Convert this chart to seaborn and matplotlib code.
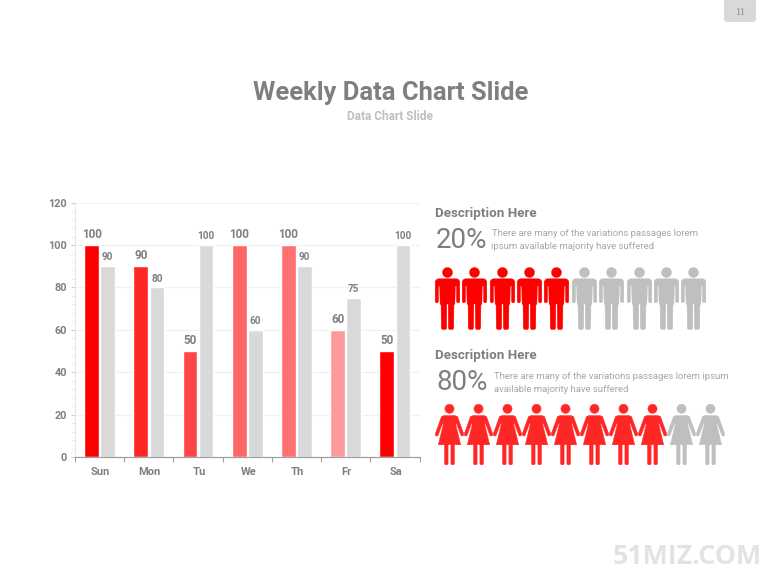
import matplotlib
matplotlib.use("Agg")
import matplotlib.pyplot as plt
from matplotlib.path import Path
from matplotlib.patches import FancyBboxPatch
from matplotlib.ticker import MultipleLocator, FixedLocator
from matplotlib.transforms import ScaledTranslation
import numpy as np
import pandas as pd
import seaborn as sns

days = ["Sun", "Mon", "Tu", "We", "Th", "Fr", "Sa"]
series_a = [100, 90, 50, 100, 100, 60, 50]
series_b = [90, 80, 100, 60, 90, 75, 100]
bar_colors = ["#ff0000", "#ff2626", "#ff4545", "#ff6666", "#ff7070", "#ff9999", "#ff0000"]
GREY_BAR = "#d9d9d9"
men_filled, men_total = 5, 10
women_filled, women_total = 8, 10

W, H = 780, 585
TXT = "#7f7f7f"
LIGHT = "#a6a6a6"

sns.set_theme(style="white")
plt.rcParams["font.family"] = ["Roboto", "DejaVu Sans"]

fig = plt.figure(figsize=(W / 100, H / 100), dpi=100, facecolor="white")


def axes_px(x0, y0, x1, y1, **kw):
    return fig.add_axes([x0 / W, 1 - y1 / H, (x1 - x0) / W, (y1 - y0) / H], **kw)


def t(x, y, s, **kw):
    kw.setdefault("va", "center")
    return fig.text(x / W, 1 - y / H, s, **kw)


# bar chart
ax = axes_px(75, 202.6, 419.5, 457.2)
df = pd.DataFrame({
    "day": days * 2,
    "value": series_a + series_b,
    "series": ["a"] * 7 + ["b"] * 7,
})
sns.barplot(data=df, x="day", y="value", hue="series", order=days,
            palette=["#ff0000", GREY_BAR], width=0.654, gap=0.087,
            legend=False, ax=ax, saturation=1)
for bar, c in zip(ax.containers[0], bar_colors):
    bar.set_facecolor(c)
ax.bar_label(ax.containers[0], padding=2.8, fontsize=8.4, fontweight="bold", color=TXT)
ax.bar_label(ax.containers[1], padding=2.8, fontsize=7.2, fontweight="bold", color=TXT)
ax.set_xlim(-0.5, 6.5)
ax.set_ylim(0, 120)
ax.set_xlabel("")
ax.set_ylabel("")
ax.yaxis.set_major_locator(MultipleLocator(20))
ax.yaxis.set_minor_locator(MultipleLocator(4))
ax.grid(axis="y", which="major", color="#f0f0f0", lw=0.8)
ax.set_axisbelow(True)
ax.tick_params(axis="y", which="major", left=True, length=3, color="#d0d0d0", width=0.8,
               labelsize=7.8, labelcolor=TXT, pad=2.8)
ax.tick_params(axis="y", which="minor", left=True, length=2, color="#e0e0e0", width=0.6)
for lab in ax.get_yticklabels():
    lab.set_fontweight("bold")
ax.xaxis.set_major_locator(FixedLocator(np.arange(7)))
ax.xaxis.set_minor_locator(FixedLocator(np.arange(-0.5, 7, 1)))
ax.tick_params(axis="x", which="major", bottom=False, length=0, labelsize=8, labelcolor=TXT, pad=7)
ax.tick_params(axis="x", which="minor", bottom=True, length=3.5, color="#a0a0a0", width=0.8)
ax.set_xticklabels(days, fontweight="bold")
nudge = ScaledTranslation(1 / 100, 0, fig.dpi_scale_trans)
for lab in ax.get_xticklabels():
    lab.set_transform(lab.get_transform() + nudge)
for side in ("top", "right"):
    ax.spines[side].set_visible(False)
ax.spines["left"].set_color("#e6e6e6")
ax.spines["left"].set_linewidth(0.8)
ax.spines["bottom"].set_color("#a0a0a0")
ax.spines["bottom"].set_linewidth(0.9)


# pictogram markers (shape units are pixels, y measured down from the top of the icon)
def marker(polys, head, height):
    parts = []
    cy = height / 2
    for p in polys:
        v = [(x, cy - y) for x, y in p]
        parts.append(Path(v + [v[0]], closed=True))
    hx, hy, hr = head
    parts.append(Path.circle((hx, cy - hy), hr))
    return Path.make_compound_path(*parts)


man_body = [(-9.3, 11.3), (-11, 12), (-12.3, 14), (-12.3, 34), (-11.5, 35.3), (-10, 35.3), (-9.0, 34),
            (-9.0, 18.5), (-7.8, 18.5), (-7.4, 36), (-6.4, 38), (-6.2, 60.5), (-5.2, 62), (-1.8, 62),
            (-0.9, 60.5), (-0.7, 36.5),
            (0.7, 36.5), (0.9, 60.5), (1.8, 62), (5.2, 62), (6.2, 60.5), (6.4, 38), (7.4, 36), (7.8, 18.5),
            (9.0, 18.5),
            (9.0, 34), (10, 35.3), (11.5, 35.3), (12.3, 34), (12.3, 14), (11, 12), (9.3, 11.3)]
man_body = man_body[::-1]
man = marker([man_body], (0, 5, 5), 62)

woman_body = [(-5.5, 11.3), (-8, 12.3), (-14.3, 29.8), (-13.6, 31.8), (-11.6, 31.6), (-6.8, 19), (-6.2, 20),
              (-11.2, 40.6), (-5, 40.6), (-5, 59.6), (-4.2, 60.6), (-2.2, 60.6), (-1.4, 59.6), (-1.4, 40.6),
              (1.4, 40.6), (1.4, 59.6), (2.2, 60.6), (4.2, 60.6),
              (5, 59.6), (5, 40.6), (11.2, 40.6), (6.2, 20), (6.8, 19), (11.6, 31.6), (13.6, 31.8),
              (14.3, 29.8), (8, 12.3), (5.5, 11.3)][::-1]
woman = marker([woman_body], (0, 4.6, 4.6), 60.6)


def icon_row(x0, x1, y0, y1, path, filled, total, on, size):
    a = axes_px(x0, y0, x1, y1)
    a.set_axis_off()
    a.patch.set_alpha(0)
    idx = np.arange(total)
    sns.scatterplot(x=idx[:filled], y=0.5, marker=path, s=size, color=on, linewidth=0.3,
                    edgecolor=on, ax=a, legend=False, clip_on=False)
    sns.scatterplot(x=idx[filled:], y=0.5, marker=path, s=size, color="#bfbfbf", linewidth=0.3,
                    edgecolor="#bfbfbf", ax=a, legend=False, clip_on=False)
    a.set_xlim(-0.5, total - 0.5)
    a.set_ylim(0, 1)


# spacing 27.4 px and 29 px, first centres 446.7 and 449
icon_row(446.7 - 13.7, 446.7 + 27.4 * 9.5, 267.3, 329.3, man, men_filled, men_total, "#ff0000",
         (62 * 0.72) ** 2)
icon_row(449 - 14.5, 449 + 29 * 9.5, 403.3, 464, woman, women_filled, women_total, "#ff2626",
         (60.6 * 0.72) ** 2)

# slide text
t(390.5, 93, "Weekly Data Chart Slide", ha="center", fontsize=18.4, fontweight="bold", color=TXT)
t(390, 116, "Data Chart Slide", ha="center", fontsize=8.6, fontweight="bold", color="#bfbfbf")

t(435, 213, "Description Here", fontsize=9.6, fontweight="bold", color=TXT)
t(436, 240, "20%", fontsize=20, color=TXT)
t(492, 233.5, "There are many of the variations passages lorem", fontsize=6.8, color=LIGHT)
t(491, 246.5, "ipsum available majority have suffered", fontsize=6.8, color=LIGHT)

t(435, 356, "Description Here", fontsize=9.6, fontweight="bold", color=TXT)
t(436, 383, "80%", fontsize=20, color=TXT)
t(494, 376.5, "There are many of the variations passages lorem ipsum", fontsize=6.8, color=LIGHT)
t(494, 389.5, "available majority have suffered", fontsize=6.8, color=LIGHT)

t(687, 556.5, "51MIZ.COM", ha="center", fontsize=19.3, fontweight="bold", color="#e3e3e3", family="Open Sans")

# page tab
bg = axes_px(0, 0, W, H, zorder=-1)
bg.set_xlim(0, W)
bg.set_ylim(H, 0)
bg.set_axis_off()
bg.add_patch(FancyBboxPatch((727, -10), 26, 29, boxstyle="round,pad=3", fc="#d9d9d9", ec="none"))
t(740, 12.5, "11", ha="center", fontsize=7.5, color="#8c8c8c", family="Liberation Serif")

fig.savefig("out.png", dpi=100, facecolor="white")
